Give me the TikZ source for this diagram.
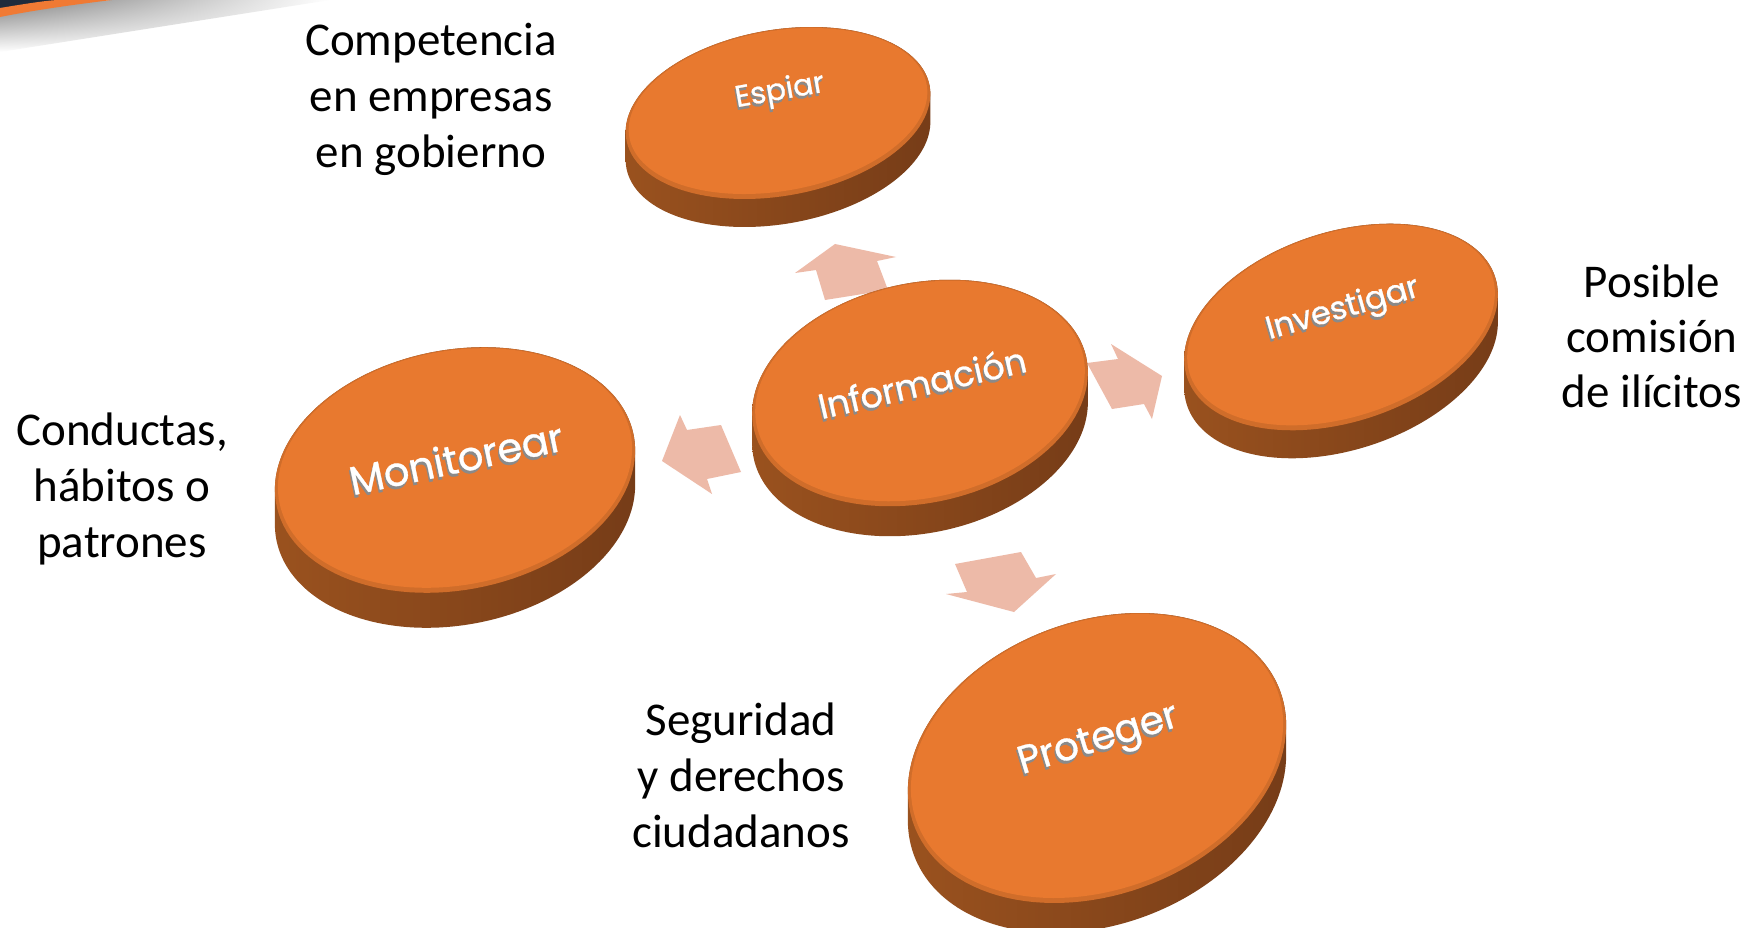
\documentclass[tikz,border=0pt]{standalone}
\usepackage{fontspec}
\usetikzlibrary{shadings}
\setmainfont{Carlito}
\newfontfamily\discfont{Poppins}[FakeBold=0.8]
\definecolor{facec}{HTML}{E8792F}
\definecolor{bevelc}{HTML}{D06D2A}
\definecolor{rimL}{HTML}{9C531F}
\definecolor{rimM}{HTML}{5A2D12}
\definecolor{rimR}{HTML}{743B17}
\definecolor{arrowc}{HTML}{EDBAA8}
\definecolor{swooshc}{HTML}{F07A34}
\definecolor{navyc}{HTML}{1E2B3C}
\definecolor{shadc}{HTML}{8A8A8A}
% #1 cx, #2 cy, #3 a, #4 b, #5 theta, #6 thickness
\newcommand\mydisc[6]{%
  \pgfmathsetmacro\tza{atan(-(#4/#3)*tan(#5))}%
  \pgfmathsetmacro\tzb{\tza+180}%
  \pgfmathsetmacro\tzc{\tza+360}%
  \begin{scope}
    \clip plot[domain=\tza:\tzb, samples=90]
      ({#1+#3*cos(\x)*cos(#5)-#4*sin(\x)*sin(#5)},{#2-#3*cos(\x)*sin(#5)-#4*sin(\x)*cos(#5)})
      -- plot[domain=\tzb:\tzc, samples=90]
      ({#1+#3*cos(\x)*cos(#5)-#4*sin(\x)*sin(#5)},{#2+#6-#3*cos(\x)*sin(#5)-#4*sin(\x)*cos(#5)}) -- cycle;
    \shade[left color=rimL, middle color=rimM, right color=rimR]
      (#1-#3-20,#2-#4-20) rectangle (#1+#3+20,#2+#4+#6+20);
  \end{scope}
  \fill[bevelc] plot[domain=0:360, samples=120]
      ({#1+#3*cos(\x)*cos(#5)-#4*sin(\x)*sin(#5)},{#2-#3*cos(\x)*sin(#5)-#4*sin(\x)*cos(#5)}) -- cycle;
  \fill[facec] plot[domain=0:360, samples=120]
      ({#1+(#3-3)*cos(\x)*cos(#5)-(#4-3)*sin(\x)*sin(#5)},{#2-2-(#3-3)*cos(\x)*sin(#5)-(#4-3)*sin(\x)*cos(#5)}) -- cycle;
}
\begin{document}
\begin{tikzpicture}[x=1pt,y=-1pt,
  lbl/.style={font=\fontsize{47}{56}\selectfont, anchor=base, inner sep=0pt},
  disctxt/.style={text=white, inner sep=0pt},
  dshadow/.style={text=shadc, inner sep=0pt},
  blockarrow/.style={fill=arrowc, draw=none}]
\useasboundingbox (0,0) rectangle (1751,928);
\fill[white] (0,0) rectangle (1751,928);

% top-left swoosh
\begin{scope}
  \clip (0,8) -- (112,0) -- (330,0) -- (0,52) -- cycle;
  \shade[upper left=black!50, upper right=white, lower left=white, lower right=white] (0,0) rectangle (330,52);
\end{scope}
\fill[navyc] (0,0) -- (62,0) -- (0,9) -- cycle;
\fill[swooshc] (0,8) .. controls (30,3) and (50,0) .. (60,0) -- (112,0) .. controls (70,5) and (30,11) .. (0,17) -- cycle;

% arrows (drawn beneath the discs)
\fill[blockarrow] (795,273) -- (835,244) -- (896,257) -- (877,261) -- (888,290) -- (825,300) -- (816,270) -- cycle;
\fill[blockarrow] (1087,363) -- (1118,359) -- (1111,344) -- (1162,376) -- (1152,419) -- (1144,404) -- (1112,409) -- cycle;
\fill[blockarrow] (662,461) -- (680,415) -- (687,430) -- (721,425) -- (741,472) -- (707,479) -- (712,494) -- cycle;
\fill[blockarrow] (955,564) -- (1021,552) -- (1036,578) -- (1056,574) -- (1014,612) -- (946,594) -- (967,592) -- cycle;

% discs
\mydisc{778}{113}{154}{83}{10}{28}
\mydisc{920}{393}{170}{110}{12}{30}
\mydisc{455}{470}{182}{120}{11}{35}
\mydisc{1341}{327}{162}{95}{18}{28}
\mydisc{1097}{758}{195}{137}{20}{30}

% disc labels
\node[dshadow, rotate=10, font={\discfont\fontsize{30}{34}\selectfont}] (espiarS) at (779,95) {Espiar};
\node[disctxt, rotate=10, font={\discfont\fontsize{30}{34}\selectfont}] (espiar) at (780,92) {Espiar};
\node[dshadow, rotate=13, font={\discfont\fontsize{35}{40}\selectfont}] (infoS) at (921,385) {Información};
\node[disctxt, rotate=13, font={\discfont\fontsize{35}{40}\selectfont}] (info) at (922,382) {Información};
\node[dshadow, rotate=12, font={\discfont\fontsize{40}{46}\selectfont}] (monS) at (455,461) {Monitorear};
\node[disctxt, rotate=12, font={\discfont\fontsize{40}{46}\selectfont}] (mon) at (456,458) {Monitorear};
\node[dshadow, rotate=16, font={\discfont\fontsize{32}{36}\selectfont}] (invS) at (1342,313) {Investigar};
\node[disctxt, rotate=16, font={\discfont\fontsize{32}{36}\selectfont}] (inv) at (1343,310) {Investigar};
\node[dshadow, rotate=17, font={\discfont\fontsize{39}{44}\selectfont}] (protS) at (1098,745) {Proteger};
\node[disctxt, rotate=17, font={\discfont\fontsize{39}{44}\selectfont}] (prot) at (1099,742) {Proteger};

% outside labels
\node[lbl] (comp1) at (431,56) {Competencia};
\node[lbl] (comp2) at (431,112) {en empresas};
\node[lbl] (comp3) at (431,168) {en gobierno};
\node[lbl] (cond1) at (122,445) {Conductas,};
\node[lbl] (cond2) at (122,501) {hábitos o};
\node[lbl] (cond3) at (122,557) {patrones};
\node[lbl] (pos1) at (1652,297) {Posible};
\node[lbl] (pos2) at (1652,352) {comisión};
\node[lbl] (pos3) at (1652,407) {de ilícitos};
\node[lbl] (seg1) at (741,735) {Seguridad};
\node[lbl] (seg2) at (741,791) {y derechos};
\node[lbl] (seg3) at (741,847) {ciudadanos};
\end{tikzpicture}
\end{document}
